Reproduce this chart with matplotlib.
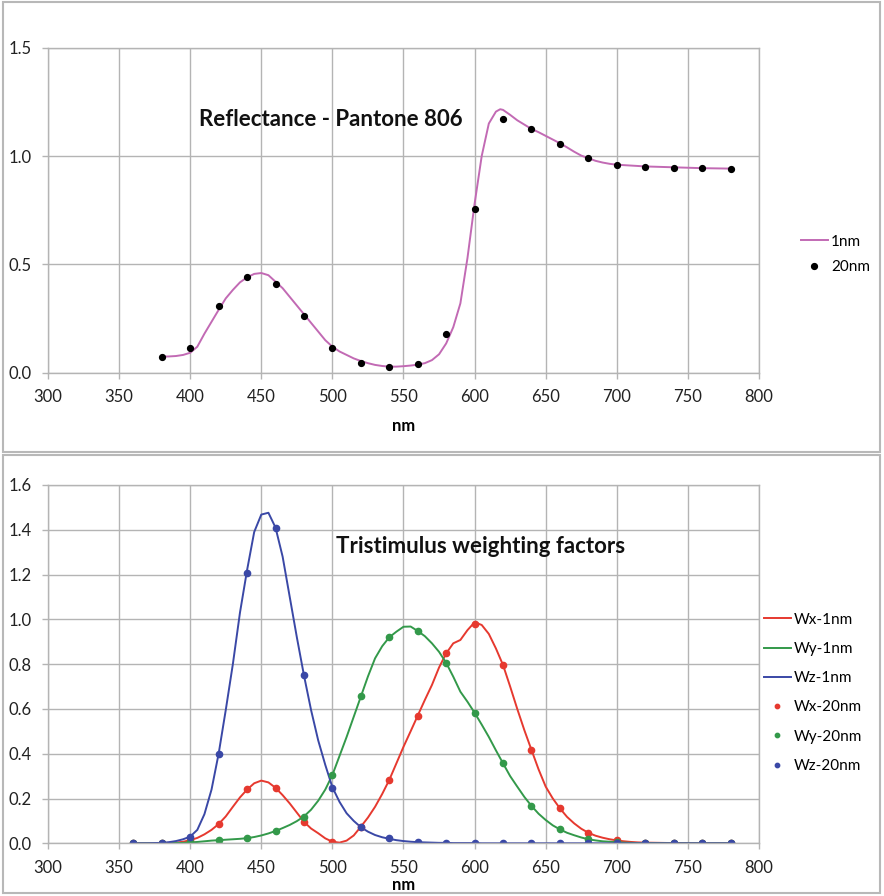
import matplotlib
matplotlib.use('Agg')
import matplotlib.pyplot as plt
from matplotlib.patches import Rectangle
import numpy as np

plt.rcParams['font.family'] = ['Lato', 'DejaVu Sans']

# reflectance, Pantone 806
wl_refl_1nm = [380, 385, 390, 395, 400, 405, 410, 415, 420, 425, 430, 435, 440, 445, 450,
               455, 460, 465, 470, 475, 480, 485, 490, 495, 500, 505, 510, 515, 520, 525,
               530, 535, 540, 545, 550, 555, 560, 565, 570, 575, 580, 585, 590, 595, 600,
               605, 610, 615, 618, 620, 625, 630, 635, 640, 645, 650, 655, 660, 665, 670,
               675, 680, 685, 690, 695, 700, 710, 720, 730, 740, 750, 760, 770, 780]
refl_1nm = [0.074, 0.075, 0.077, 0.082, 0.092, 0.12, 0.18, 0.235, 0.29, 0.343, 0.382, 0.417, 0.44, 0.456, 0.46,
            0.45, 0.42, 0.39, 0.35, 0.31, 0.27, 0.23, 0.19, 0.15, 0.12, 0.098, 0.082, 0.066, 0.054, 0.044,
            0.036, 0.031, 0.028, 0.028, 0.03, 0.033, 0.037, 0.044, 0.058, 0.085, 0.135, 0.21, 0.32, 0.53, 0.78,
            1.0, 1.15, 1.205, 1.216, 1.213, 1.19, 1.165, 1.145, 1.125, 1.11, 1.093, 1.076, 1.059, 1.04, 1.02,
            1.002, 0.99, 0.978, 0.97, 0.964, 0.96, 0.956, 0.952, 0.95, 0.948, 0.946, 0.944, 0.943, 0.942]
wl_refl_20nm = [380, 400, 420, 440, 460, 480, 500, 520, 540, 560, 580,
                600, 620, 640, 660, 680, 700, 720, 740, 760, 780]
refl_20nm = [0.074, 0.114, 0.309, 0.443, 0.41, 0.263, 0.115, 0.045, 0.028, 0.042, 0.178,
             0.757, 1.17, 1.125, 1.056, 0.99, 0.96, 0.95, 0.947, 0.944, 0.94]

# tristimulus weighting factors
wl_w_1nm = list(range(360, 725, 5)) + [740, 760, 780]
wx_1nm = [0, 0, 0, 0, 0.001, 0.002, 0.003, 0.007, 0.014, 0.024, 0.04, 0.06, 0.086, 0.12, 0.163,
          0.205, 0.24, 0.268, 0.28, 0.272, 0.248, 0.215, 0.178, 0.137, 0.096, 0.066, 0.045, 0.022,
          0.007, 0.003, 0.012, 0.035, 0.074, 0.115, 0.163, 0.22, 0.283, 0.357, 0.431, 0.50, 0.57,
          0.64, 0.707, 0.785, 0.848, 0.893, 0.908, 0.952, 0.987, 0.975, 0.935, 0.87, 0.796, 0.70,
          0.60, 0.505, 0.417, 0.33, 0.253, 0.20, 0.156, 0.118, 0.089, 0.065, 0.047, 0.034, 0.025,
          0.018, 0.013, 0.009, 0.006, 0.004, 0.003, 0.001, 0, 0]
wy_1nm = [0, 0, 0, 0, 0, 0.001, 0.001, 0.002, 0.004, 0.006, 0.009, 0.012, 0.014, 0.016, 0.018,
          0.02, 0.023, 0.028, 0.035, 0.044, 0.055, 0.068, 0.082, 0.099, 0.12, 0.15, 0.19, 0.24,
          0.305, 0.39, 0.475, 0.565, 0.655, 0.745, 0.826, 0.88, 0.92, 0.945, 0.967, 0.968, 0.948,
          0.925, 0.893, 0.855, 0.806, 0.744, 0.677, 0.632, 0.583, 0.53, 0.475, 0.415, 0.357, 0.30,
          0.253, 0.207, 0.167, 0.132, 0.104, 0.08, 0.062, 0.047, 0.036, 0.026, 0.018, 0.013, 0.009,
          0.007, 0.005, 0.003, 0.002, 0.001, 0.001, 0, 0, 0]
wz_1nm = [0, 0, 0, 0.001, 0.002, 0.005, 0.01, 0.018, 0.03, 0.06, 0.13, 0.24, 0.40, 0.595, 0.80,
          1.03, 1.22, 1.39, 1.468, 1.476, 1.41, 1.28, 1.10, 0.92, 0.75, 0.595, 0.46, 0.35,
          0.25, 0.185, 0.134, 0.10, 0.072, 0.052, 0.037, 0.027, 0.02, 0.014, 0.01, 0.007, 0.005,
          0.004, 0.003, 0.002, 0.002, 0.001, 0.001, 0.001, 0.001, 0, 0, 0, 0, 0,
          0, 0, 0, 0, 0, 0, 0, 0, 0, 0, 0, 0, 0,
          0, 0, 0, 0, 0, 0, 0, 0, 0]
wl_w_20nm = list(range(360, 781, 20))
wx_20nm = [0, 0.001, 0.014, 0.086, 0.241, 0.248, 0.096, 0.007, 0.074, 0.281, 0.57, 0.848, 0.98,
           0.796, 0.417, 0.156, 0.047, 0.013, 0.003, 0.001, 0, 0]
wy_20nm = [0, 0, 0.004, 0.013, 0.022, 0.055, 0.119, 0.305, 0.658, 0.92, 0.948, 0.806, 0.583,
           0.357, 0.167, 0.062, 0.018, 0.005, 0.001, 0, 0, 0]
wz_20nm = [0, 0.002, 0.03, 0.40, 1.208, 1.406, 0.753, 0.248, 0.074, 0.022, 0.005, 0.002, 0.001,
           0, 0, 0, 0, 0, 0, 0, 0, 0]

gridc = '#b4b4b4'
W, H = 884, 896
fig = plt.figure(figsize=(W / 100, H / 100), dpi=100)

# panel frames
for y0, y1 in [(2, 452), (455, 893)]:
    fig.patches.append(Rectangle((3 / W, 1 - y1 / H), (880 - 3) / W, (y1 - y0) / H,
                                 transform=fig.transFigure, fill=False,
                                 edgecolor='#b8b8b8', lw=1.5))

def styleAxis(ax, ymax, ystep):
    ax.set_xlim(300, 800)
    ax.set_ylim(0, ymax)
    ax.set_xticks(np.arange(300, 801, 50))
    ax.set_yticks(np.arange(0, ymax + 1e-9, ystep))
    ax.yaxis.set_major_formatter(matplotlib.ticker.FormatStrFormatter('%.1f'))
    ax.grid(True, color=gridc, lw=1)
    ax.set_axisbelow(True)
    for s in ax.spines.values():
        s.set_color(gridc)
        s.set_linewidth(1)
    ax.tick_params(axis='both', colors=gridc, labelcolor='#222222', labelsize=12,
                   length=4, width=1)
    ax.tick_params(axis='x', pad=8)
    ax.tick_params(axis='y', pad=8)

# top panel
ax1 = fig.add_axes([48 / W, 1 - 372.7 / H, 711 / W, 325 / H])
styleAxis(ax1, 1.5, 0.5)
l1, = ax1.plot(wl_refl_1nm, refl_1nm, color='#c26ab4', lw=1.4)
p1, = ax1.plot(wl_refl_20nm, refl_20nm, 'o', color='black', ms=4.2, ls='none')
ax1.text(499, 1.167, 'Reflectance - Pantone 806', ha='center', va='center',
         fontsize=16, fontweight='bold', color='#111111')
ax1.set_xlabel('nm', fontsize=12, fontweight='bold', labelpad=9)
fig.legend([l1, p1], ['1nm', '20nm'], loc='upper left', bbox_to_anchor=(793 / W, 1 - 227 / H),
           frameon=False, fontsize=11, borderpad=0, handlelength=1.8, handletextpad=0.2,
           labelspacing=0.75)

# bottom panel
ax2 = fig.add_axes([48 / W, 1 - 843.3 / H, 711 / W, 358.3 / H])
styleAxis(ax2, 1.6, 0.2)
colors = {'x': '#e6392f', 'y': '#33994a', 'z': '#3a48a6'}
lx, = ax2.plot(wl_w_1nm, wx_1nm, color=colors['x'], lw=1.4)
ly, = ax2.plot(wl_w_1nm, wy_1nm, color=colors['y'], lw=1.4)
lz, = ax2.plot(wl_w_1nm, wz_1nm, color=colors['z'], lw=1.4)
px, = ax2.plot(wl_w_20nm, wx_20nm, 'o', color=colors['x'], ms=4.5, ls='none')
py, = ax2.plot(wl_w_20nm, wy_20nm, 'o', color=colors['y'], ms=4.5, ls='none')
pz, = ax2.plot(wl_w_20nm, wz_20nm, 'o', color=colors['z'], ms=4.5, ls='none')
ax2.text(480 / 1.0 + 124, 1.327, 'Tristimulus weighting factors', ha='center', va='center',
         fontsize=16, fontweight='bold', color='#111111')
ax2.set_xlabel('nm', fontsize=12, fontweight='bold', labelpad=1)
fig.legend([lx, ly, lz, px, py, pz],
           ['Wx-1nm', 'Wy-1nm', 'Wz-1nm', 'Wx-20nm', 'Wy-20nm', 'Wz-20nm'],
           loc='upper left', bbox_to_anchor=(756 / W, 1 - 605 / H),
           frameon=False, fontsize=11, borderpad=0, handlelength=1.8, handletextpad=0.2,
           labelspacing=1.0, markerscale=0.7)

fig.savefig('out.png', dpi=100)
